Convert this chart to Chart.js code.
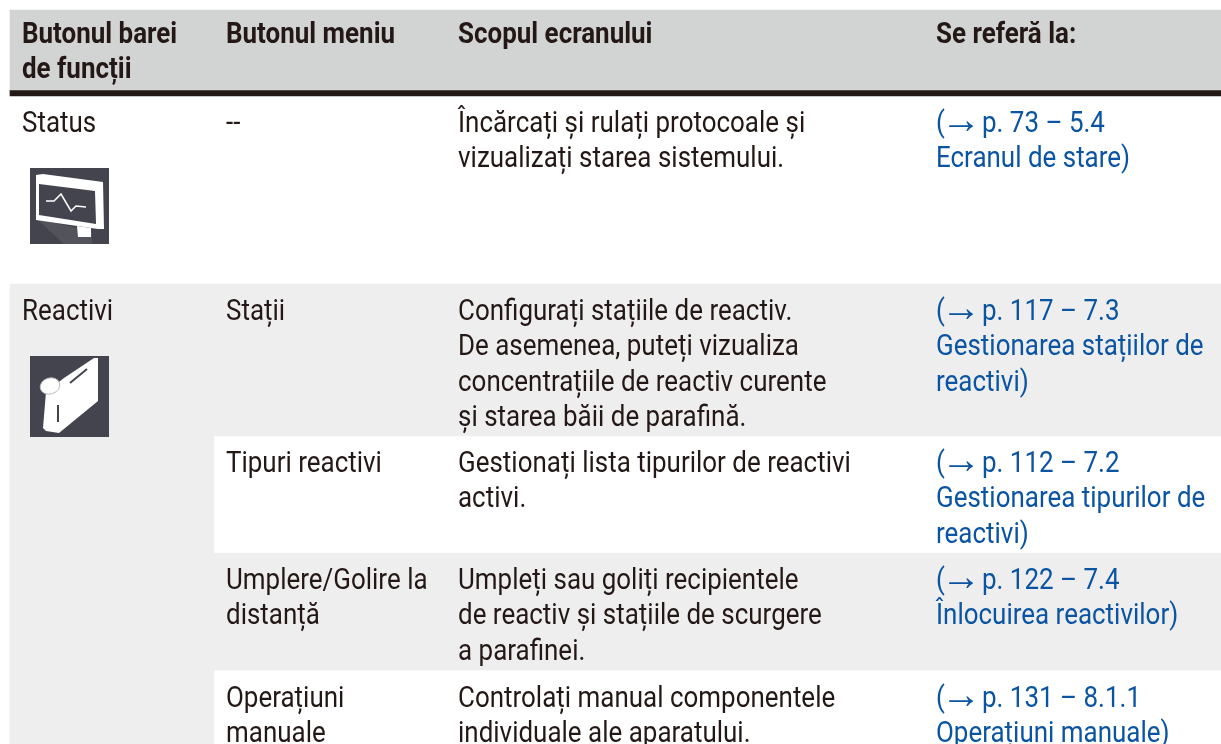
<!DOCTYPE html>
<html lang="ro">
<head>
<meta charset="utf-8">
<title>Butoane</title>
<script src="https://cdn.jsdelivr.net/npm/chart.js@4/dist/chart.umd.min.js"></script>
<style>
  html, body { margin: 0; padding: 0; background: #fff; overflow: hidden; }
  canvas { display: block; }
</style>
</head>
<body>
<canvas id="table" width="1221" height="744"></canvas>
<script>
// table text
const headers     = [['Butonul barei', 'de funcții'], ['Butonul meniu'], ['Scopul ecranului'], ['Se referă la:']];
const toolbar     = [['Status'], ['Reactivi'], [], [], []];
const menu        = [['--'], ['Stații'], ['Tipuri reactivi'], ['Umplere/Golire la', 'distanță'], ['Operațiuni', 'manuale']];
const purpose     = [
  ['Încărcați și rulați protocoale și', 'vizualizați starea sistemului.'],
  ['Configurați stațiile de reactiv.', 'De asemenea, puteți vizualiza', 'concentrațiile de reactiv curente', 'și starea băii de parafină.'],
  ['Gestionați lista tipurilor de reactivi', 'activi.'],
  ['Umpleți sau goliți recipientele', 'de reactiv și stațiile de scurgere', 'a parafinei.'],
  ['Controlați manual componentele', 'individuale ale aparatului.'],
];
const references  = [
  ['(→ p. 73 – 5.4', 'Ecranul de stare)'],
  ['(→ p. 117 – 7.3', 'Gestionarea stațiilor de', 'reactivi)'],
  ['(→ p. 112 – 7.2', 'Gestionarea tipurilor de', 'reactivi)'],
  ['(→ p. 122 – 7.4', 'Înlocuirea reactivilor)'],
  ['(→ p. 131 – 8.1.1', 'Operațiuni manuale)'],
];

// background bands, in page units
const bandLeft   = [10, 10, 10, 214, 214];
const bandRight  = [1221, 1221, 214, 1221, 1221];
const bandTop    = [10, 90, 284, 284, 553];
const bandBottom = [90, 96, 744, 436, 670];
const bandColour = ['#d2d4d3', '#231815', '#eeeeee', '#eeeeee', '#eeeeee'];

const colX      = [22, 226, 458, 936];
const rowFirst  = [132, 320, 472, 589, 707];
const headFirst = 43;
const lineStep  = 35.4;

const INK = '#231815', LINK = '#0b54a2', ICON = '#44444e', SHADE = '#53535c';
const FONT = '"Roboto", "Liberation Sans", sans-serif';
const SIZE = 29, NARROW = 0.895;

function writeLines(ctx, sc, lines, x, y0, colour, bold) {
  const font = (bold ? '700 ' : '400 ') + SIZE + 'px ' + FONT;
  ctx.fillStyle = colour;
  ctx.textBaseline = 'alphabetic';
  lines.forEach((t, i) => {
    const px = sc.x.getPixelForValue(x), py = sc.y.getPixelForValue(y0 + i * lineStep);
    ctx.font = font;
    const put = (s, at) => ctx.fillText(s, at, py, ctx.measureText(s).width * NARROW);
    if (t.includes('→')) {
      // the arrow glyph is too small in Roboto, it comes larger from Liberation Sans
      const [open, rest] = t.split('→');
      put(open, px);
      put(rest.trim(), px + 46);
      ctx.font = '400 40px "Liberation Sans"';
      ctx.fillText('→', px + 5, py + 1);
    } else {
      put(t, px);
    }
  });
}

function poly(ctx, pts, colour) {
  ctx.fillStyle = colour;
  ctx.beginPath();
  pts.forEach((p, i) => i ? ctx.lineTo(p[0], p[1]) : ctx.moveTo(p[0], p[1]));
  ctx.closePath();
  ctx.fill();
}

function monitorIcon(ctx) {
  ctx.fillStyle = ICON;
  ctx.fillRect(30, 168, 79, 76);
  poly(ctx, [[36, 218], [64, 244], [92, 244], [92, 232]], SHADE);
  poly(ctx, [[77, 226], [91, 228], [91, 237], [78, 237]], '#ffffff');
  poly(ctx, [[36, 175], [43, 174], [103, 182], [104, 229], [98, 229], [36, 220]], '#ffffff');
  poly(ctx, [[37, 181], [97, 189], [98, 227], [37, 217]], '#ffffff');
  poly(ctx, [[39, 184], [95, 191], [96, 224], [39, 215]], ICON);
  ctx.strokeStyle = '#ffffff';
  ctx.lineWidth = 1.5;
  ctx.beginPath();
  [[46, 201], [54, 201], [61, 194], [71, 211], [76, 206], [86, 207]].forEach((p, i) => i ? ctx.lineTo(p[0], p[1]) : ctx.moveTo(p[0], p[1]));
  ctx.stroke();
}

function canisterIcon(ctx) {
  ctx.fillStyle = ICON;
  ctx.fillRect(30, 356, 79, 81);
  poly(ctx, [[94, 358], [98, 358], [98, 401], [59, 433], [46, 431], [43, 428], [46, 392], [64, 378]], '#ffffff');
  ctx.fillStyle = '#ffffff';
  ctx.strokeStyle = '#b9b9be';
  ctx.lineWidth = 1;
  ctx.beginPath();
  ctx.ellipse(50, 386, 10, 8, -0.3, 0, Math.PI * 2);
  ctx.fill();
  ctx.stroke();
  ctx.strokeStyle = ICON;
  ctx.lineWidth = 2;
  ctx.beginPath();
  ctx.moveTo(70, 383); ctx.lineTo(87, 369);
  ctx.moveTo(58, 405); ctx.lineTo(58, 422);
  ctx.stroke();
}

const tablePlugin = {
  id: 'tableText',
  afterDatasetsDraw(chart) {
    const ctx = chart.ctx, sc = chart.scales;
    ctx.save();
    monitorIcon(ctx);
    canisterIcon(ctx);
    headers.forEach((lines, c) => writeLines(ctx, sc, lines, colX[c], headFirst, INK, true));
    [toolbar, menu, purpose].forEach((col, c) => {
      col.forEach((lines, r) => writeLines(ctx, sc, lines, colX[c], rowFirst[r], INK, false));
    });
    references.forEach((lines, r) => writeLines(ctx, sc, lines, colX[3], rowFirst[r], LINK, false));
    ctx.restore();
  },
};

new Chart(document.getElementById('table'), {
  type: 'bar',
  data: {
    datasets: bandLeft.map((l, i) => ({
      data: [{ x: [l, bandRight[i]], y: (bandTop[i] + bandBottom[i]) / 2 }],
      backgroundColor: bandColour[i],
      barThickness: bandBottom[i] - bandTop[i],
      grouped: false,
      borderWidth: 0,
    })),
  },
  options: {
    indexAxis: 'y',
    responsive: false,
    animation: false,
    layout: { padding: 0 },
    plugins: { legend: { display: false }, tooltip: { enabled: false } },
    scales: {
      x: { type: 'linear', min: 0, max: 1221, display: false },
      y: { type: 'linear', min: 0, max: 744, reverse: true, offset: false, display: false },
    },
  },
  plugins: [tablePlugin],
});
</script>
</body>
</html>
